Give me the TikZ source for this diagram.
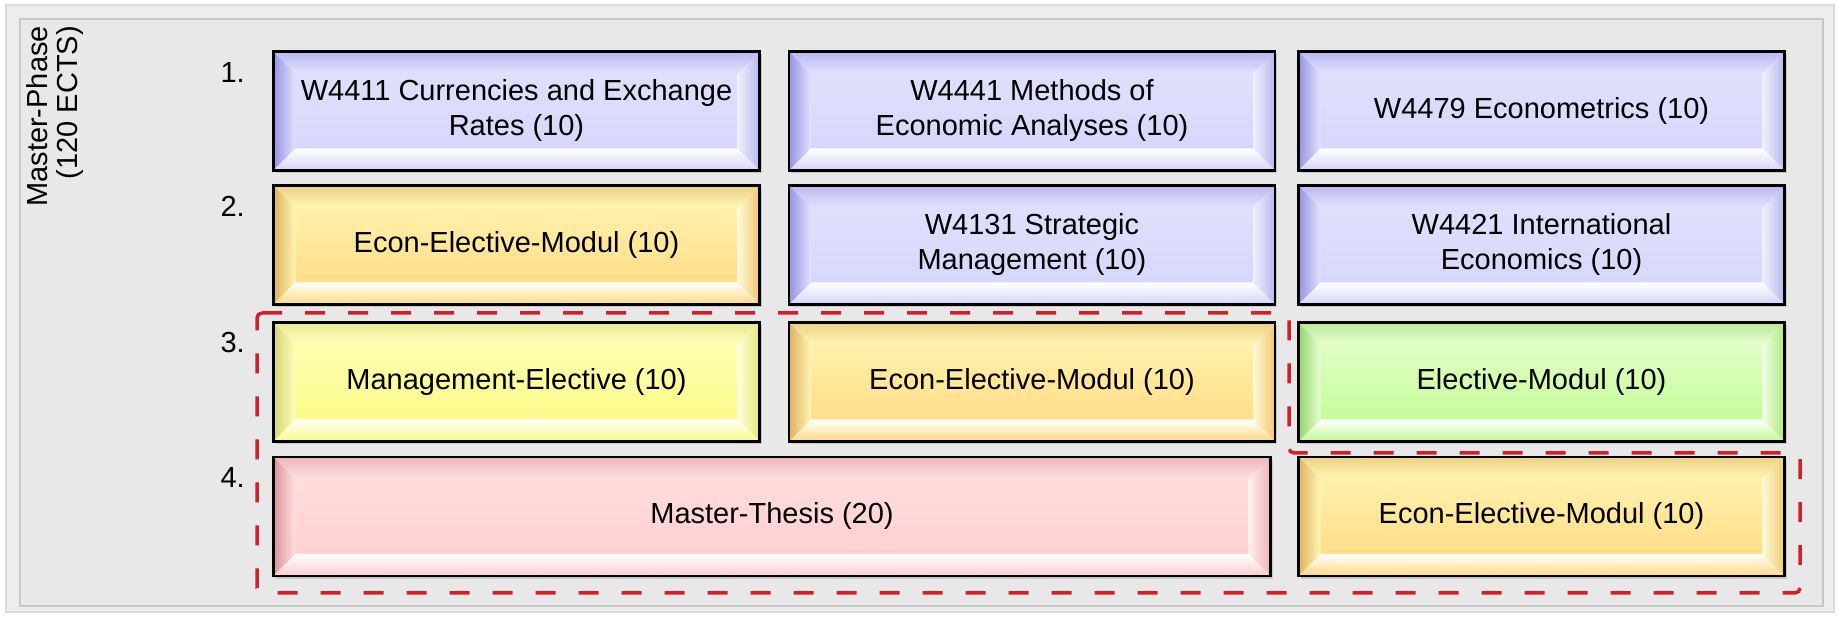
\documentclass[tikz,border=0pt]{standalone}
\usepackage{fontspec}
\setmainfont{Liberation Sans}
\usetikzlibrary{shadows}

\definecolor{lilaT}{RGB}{226,226,253}
\definecolor{lilaB}{RGB}{212,212,250}
\definecolor{lilaD}{RGB}{148,148,226}
\definecolor{orT}{RGB}{255,246,180}
\definecolor{orB}{RGB}{255,216,128}
\definecolor{orD}{RGB}{222,178,96}
\definecolor{geT}{RGB}{255,255,188}
\definecolor{geB}{RGB}{250,250,128}
\definecolor{geD}{RGB}{212,212,118}
\definecolor{grT}{RGB}{230,255,208}
\definecolor{grB}{RGB}{192,250,142}
\definecolor{grD}{RGB}{148,212,108}
\definecolor{roT}{RGB}{255,224,224}
\definecolor{roB}{RGB}{255,204,208}
\definecolor{roD}{RGB}{218,148,158}
\definecolor{rahmen}{RGB}{210,32,42}

\newcommand{\modfont}{\fontsize{29}{35}\selectfont}
\newlength{\bevw}\setlength{\bevw}{22pt}

\tikzset{
  modul/.style n args={3}{draw=black, line width=2.6pt, top color=#1, bottom color=#2,
    minimum width=486pt, minimum height=119pt, inner sep=0pt, align=center, font=\modfont,
    drop shadow={shadow xshift=2pt, shadow yshift=-3pt, opacity=0.3},
    path picture={
      \path (path picture bounding box.south west) coordinate (b1)
            (path picture bounding box.north west) coordinate (b2)
            (path picture bounding box.north east) coordinate (b3)
            (path picture bounding box.south east) coordinate (b4);
      \path ([shift={(\bevw,\bevw)}]b1) coordinate (i1)
            ([shift={(\bevw,-\bevw)}]b2) coordinate (i2)
            ([shift={(-\bevw,-\bevw)}]b3) coordinate (i3)
            ([shift={(-\bevw,\bevw)}]b4) coordinate (i4);
      % bevel edges
      \shade[left color=#3, right color=#1] (b1) -- (b2) -- (i2) -- (i1) -- cycle;
      \shade[top color=#3!55!#1, bottom color=#1] (b2) -- (b3) -- (i3) -- (i2) -- cycle;
      \shade[left color=white!45!#1, right color=#3!45!#2] (b3) -- (b4) -- (i4) -- (i3) -- cycle;
      \shade[top color=white, bottom color=#2] (b1) -- (b4) -- (i4) -- (i1) -- cycle;
    }},
  nr/.style={anchor=base east, font=\modfont, inner sep=0pt},
}

\begin{document}
\begin{tikzpicture}[x=1pt,y=1pt]
  \fill[white] (0,0) rectangle (1839,617);
  \useasboundingbox (0,0) rectangle (1839,617);
  % frame
  \filldraw[fill=black!7, draw=black!14, line width=1.2pt] (6,5) rectangle (1834,612);
  \filldraw[fill=black!9, draw=black!22, line width=1.5pt] (20,11) rectangle (1823,598);

  \node[rotate=90, anchor=north east, inner sep=0pt, align=right, font=\fontsize{29}{30}\selectfont]
    (phase) at (26,591) {Master-Phase\\(120 ECTS)};

  \node[nr] (nr1) at (245,534) {1.};
  \node[nr] (nr2) at (245,400) {2.};
  \node[nr] (nr3) at (245,264) {3.};
  \node[nr] (nr4) at (245,129) {4.};

  % modules
  \node[modul={lilaT}{lilaB}{lilaD}] (w4411) at (516.5,506) {W4411 Currencies and Exchange\\Rates (10)};
  \node[modul={lilaT}{lilaB}{lilaD}] (w4441) at (1032,506) {W4441 Methods of\\Economic Analyses (10)};
  \node[modul={lilaT}{lilaB}{lilaD}] (w4479) at (1541.5,506) {W4479 Econometrics (10)};

  \node[modul={orT}{orB}{orD}] (econA) at (516.5,372) {Econ-Elective-Modul (10)};
  \node[modul={lilaT}{lilaB}{lilaD}] (w4131) at (1032,372) {W4131 Strategic\\Management (10)};
  \node[modul={lilaT}{lilaB}{lilaD}] (w4421) at (1541.5,372) {W4421 International\\Economics (10)};

  \node[modul={geT}{geB}{geD}] (mgmt) at (516.5,235) {Management-Elective (10)};
  \node[modul={orT}{orB}{orD}] (econB) at (1032,235) {Econ-Elective-Modul (10)};
  \node[modul={grT}{grB}{grD}] (elective) at (1541.5,235) {Elective-Modul (10)};

  \node[modul={roT}{roB}{roD}, minimum width=997pt] (thesis) at (772,100.5) {Master-Thesis (20)};
  \node[modul={orT}{orB}{orD}] (econC) at (1541.5,100.5) {Econ-Elective-Modul (10)};

  % dashed region
  \draw[rahmen, line width=3.5pt, dash pattern=on 20pt off 23pt, rounded corners=5pt]
    (257,304) -- (1289,304) -- (1289,164) -- (1800,164) -- (1800,24) -- (257,24) -- cycle;
\end{tikzpicture}
\end{document}
